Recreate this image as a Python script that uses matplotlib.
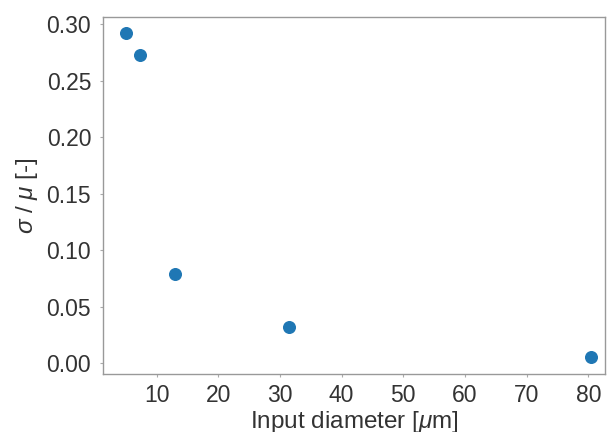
import matplotlib
matplotlib.use("Agg")
import matplotlib.pyplot as plt

diameter = [5.0, 7.3, 13.0, 31.5, 80.4]
cv = [0.292, 0.273, 0.079, 0.032, 0.005]
xticks = [10, 20, 30, 40, 50, 60, 70, 80]
yticks = [0.00, 0.05, 0.10, 0.15, 0.20, 0.25, 0.30]

plt.rcParams['font.family'] = ['Liberation Sans', 'DejaVu Sans']
plt.rcParams['mathtext.fontset'] = 'custom'
plt.rcParams['mathtext.it'] = 'Liberation Sans:italic'
plt.rcParams['mathtext.rm'] = 'Liberation Sans'

fig = plt.figure(figsize=(6.08, 4.32), dpi=100)
ax = fig.add_axes([103/608, 1-374/432, (605-103)/608, (374-17)/432])
ax.scatter(diameter, cv, s=70, color='#1f77b4', zorder=3)
ax.set_xlim(1.3, 82.7)
ax.set_ylim(-0.0097, 0.3066)
ax.set_xticks(xticks)
ax.set_yticks(yticks)
ax.set_yticklabels([f"{v:.2f}" for v in yticks])
txt = '#333333'
ax.tick_params(labelsize=16.5, labelcolor=txt, color='#aaaaaa', length=2.5, width=0.8,
               direction='out', pad=6)
ax.tick_params(axis='x', pad=5)
for side in ['left', 'bottom', 'right', 'top']:
    ax.spines[side].set_color('#999999')
    ax.spines[side].set_linewidth(1.0)
ax.set_xlabel(r'Input diameter [$\mu$m]', fontsize=17.5, color=txt, labelpad=1)
ax.set_ylabel(r'$\sigma$ / $\mu$ [-]', fontsize=17.5, color=txt, labelpad=5)
fig.savefig('out.png', dpi=100)
